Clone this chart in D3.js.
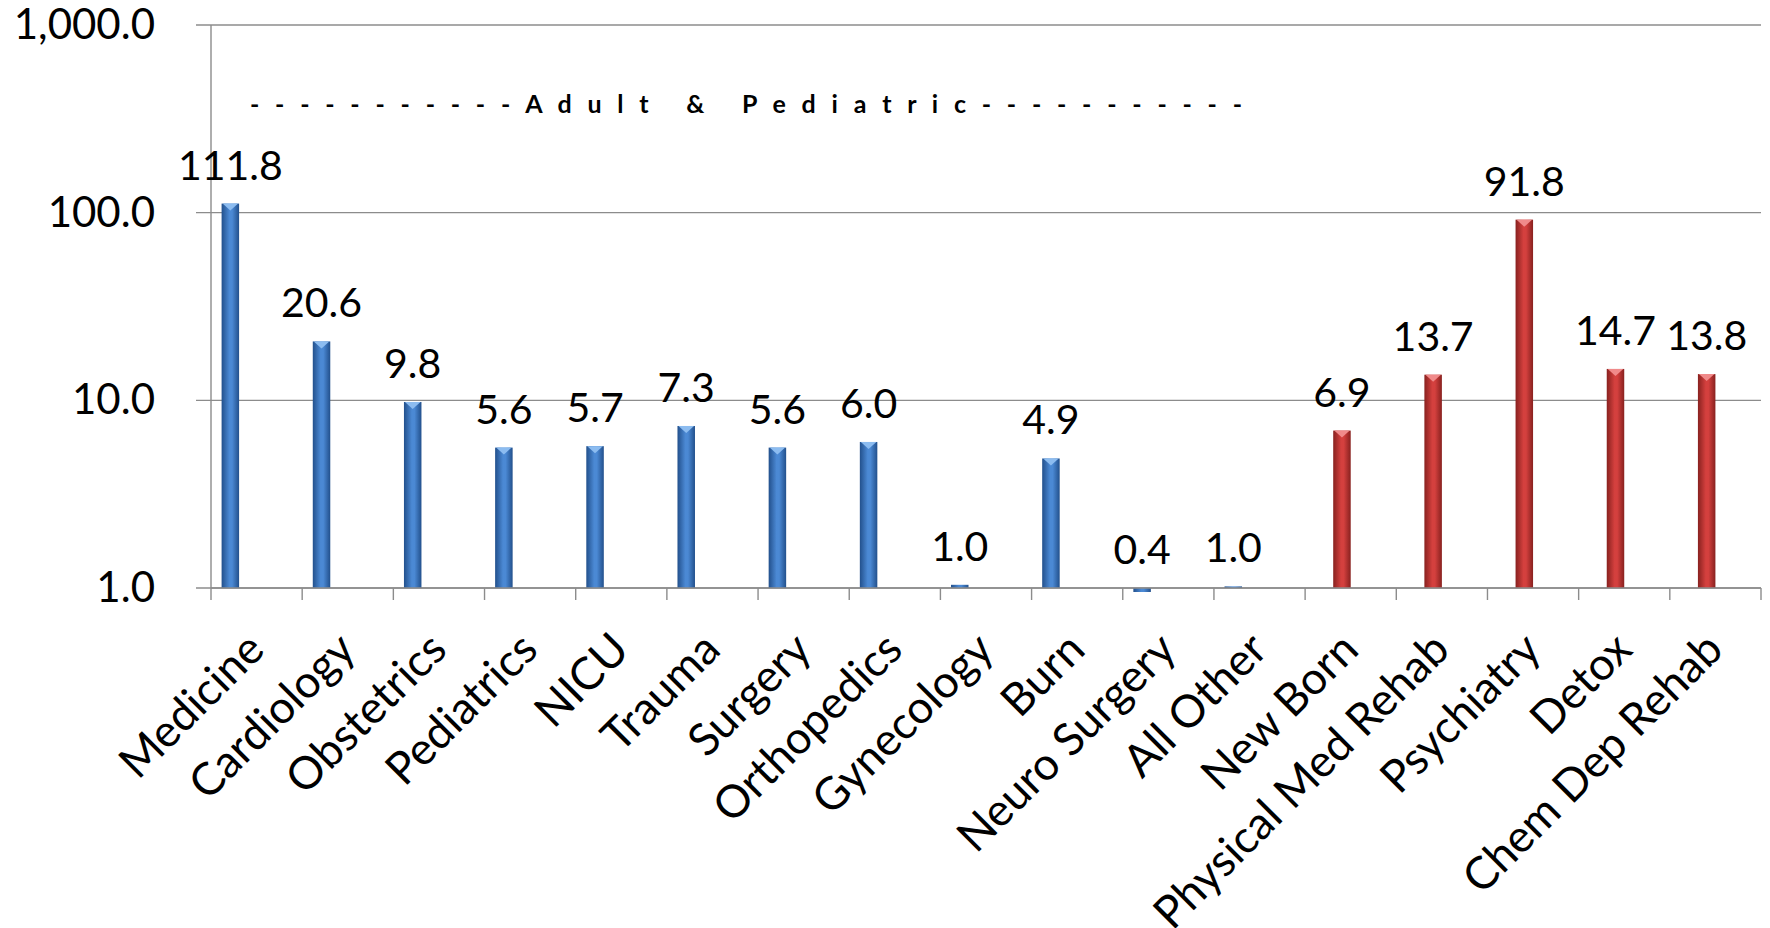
<!DOCTYPE html>
<html>
<head>
<meta charset="utf-8">
<script src="https://cdn.jsdelivr.net/npm/d3@7"></script>
<style>
  html, body { margin: 0; padding: 0; background: #fff; }
  svg text { font-family: Lato, "Open Sans", sans-serif; fill: #000; }
</style>
</head>
<body>
<svg id="chart"></svg>
<script>
"use strict";

var width = 1770
  , height = 928
  , margin = {top: 25, right: 9, bottom: 340, left: 211};

var categories = ["Medicine", "Cardiology", "Obstetrics", "Pediatrics", "NICU", "Trauma",
  "Surgery", "Orthopedics", "Gynecology", "Burn", "Neuro Surgery", "All Other",
  "New Born", "Physical Med Rehab", "Psychiatry", "Detox", "Chem Dep Rehab"];

// adult & pediatric units (blue)
var adultValues = [111.8, 20.6, 9.8, 5.6, 5.7, 7.3, 5.6, 6.0, 1.04, 4.9, 0.4, 1.02,
  null, null, null, null, null];

// specialty units (red)
var specialtyValues = [null, null, null, null, null, null, null, null, null, null, null, null,
  6.9, 13.7, 91.8, 14.7, 13.8];

var yTicks = [1, 10, 100, 1000];
var groupTitle = "- - - - - - - - - - - A d u l t   &   P e d i a t r i c - - - - - - - - - - -";

var series = [
  {key: "adult", values: adultValues, edge: "#22508c", mid: "#4b89d4", cap: "#8cbcf0"},
  {key: "specialty", values: specialtyValues, edge: "#88211f", mid: "#d4403e", cap: "#f08a8a"}
];

var svg = d3.select("#chart")
  .attr("width", width)
  .attr("height", height);

var plotBottom = height - margin.bottom
  , plotRight = width - margin.right;

var x = d3.scaleBand()
  .domain(categories)
  .range([margin.left, plotRight])
  .paddingInner(0.2325)
  .paddingOuter(0.11625);

// four slots per category, the chart only fills the first two
var xSub = d3.scaleBand()
  .domain(d3.range(4))
  .range([0, x.bandwidth()]);

var y = d3.scaleLog()
  .domain([1, 1000])
  .range([plotBottom, margin.top]);

var defs = svg.append("defs");

series.forEach(function (s) {
  var grad = defs.append("linearGradient")
    .attr("id", "grad-" + s.key)
    .attr("x1", "0").attr("x2", "1").attr("y1", "0").attr("y2", "0");
  grad.append("stop").attr("offset", "0%").attr("stop-color", s.edge);
  grad.append("stop").attr("offset", "45%").attr("stop-color", s.mid);
  grad.append("stop").attr("offset", "60%").attr("stop-color", s.mid);
  grad.append("stop").attr("offset", "100%").attr("stop-color", s.edge);
});

defs.append("clipPath")
  .attr("id", "plot-clip")
  .append("rect")
  .attr("x", margin.left)
  .attr("y", 0)
  .attr("width", plotRight - margin.left)
  .attr("height", plotBottom + 4);

// gridlines + y ticks
svg.append("g")
  .selectAll("line")
  .data(yTicks)
  .enter()
  .append("line")
  .attr("x1", margin.left - 15)
  .attr("x2", plotRight)
  .attr("y1", function (d) { return y(d); })
  .attr("y2", function (d) { return y(d); })
  .attr("stroke", "#8c8c8c")
  .attr("stroke-width", 1.4);

svg.append("g")
  .selectAll("text")
  .data(yTicks)
  .enter()
  .append("text")
  .attr("x", 155)
  .attr("y", function (d) { return y(d); })
  .attr("dy", "0.33em")
  .attr("text-anchor", "end")
  .style("font-size", "42px")
  .text(function (d) { return d3.format(",.1f")(d); });

// axes lines
svg.append("line")
  .attr("x1", margin.left).attr("x2", margin.left)
  .attr("y1", y(1000)).attr("y2", plotBottom + 12)
  .attr("stroke", "#8c8c8c")
  .attr("stroke-width", 1.4);

var step = x.step();
svg.append("g")
  .selectAll("line")
  .data(categories)
  .enter()
  .append("line")
  .attr("x1", function (d) { return x(d) - x.paddingInner() * step / 2 + step; })
  .attr("x2", function (d) { return x(d) - x.paddingInner() * step / 2 + step; })
  .attr("y1", plotBottom)
  .attr("y2", plotBottom + 12)
  .attr("stroke", "#8c8c8c")
  .attr("stroke-width", 1.4);

// bars
var bars = svg.append("g").attr("clip-path", "url(#plot-clip)");

series.forEach(function (s, i) {
  var pts = categories.map(function (c, j) {
    return {cat: c, v: s.values[j]};
  }).filter(function (d) { return d.v != null; });

  var bw = xSub.bandwidth();

  bars.selectAll(".bar-" + s.key)
    .data(pts)
    .enter()
    .append("rect")
    .attr("class", "bar-" + s.key)
    .attr("x", function (d) { return x(d.cat) + xSub(i); })
    .attr("width", bw)
    .attr("y", function (d) { return Math.min(y(d.v), y(1)); })
    .attr("height", function (d) { return Math.abs(y(1) - y(d.v)); })
    .attr("fill", "url(#grad-" + s.key + ")");

  // little bevel at the top of each bar
  bars.selectAll(".cap-" + s.key)
    .data(pts.filter(function (d) { return y(1) - y(d.v) > 10; }))
    .enter()
    .append("path")
    .attr("class", "cap-" + s.key)
    .attr("d", function (d) {
      var x0 = x(d.cat) + xSub(i), top = y(d.v);
      return "M" + (x0 + 1) + "," + top + "L" + (x0 + bw - 1) + "," + top +
        "L" + (x0 + bw / 2) + "," + (top + 7) + "Z";
    })
    .attr("fill", s.cap);

  svg.append("g")
    .selectAll("text")
    .data(pts)
    .enter()
    .append("text")
    .attr("x", function (d) { return x(d.cat) + xSub(i) + bw / 2; })
    .attr("y", function (d) { return Math.min(y(d.v), y(1)) - 24; })
    .attr("text-anchor", "middle")
    .style("font-size", "41px")
    .text(function (d) { return d.v.toFixed(1); });
});

// x axis line on top of the bars
svg.append("line")
  .attr("x1", margin.left).attr("x2", plotRight)
  .attr("y1", plotBottom).attr("y2", plotBottom)
  .attr("stroke", "#8c8c8c")
  .attr("stroke-width", 1.4);

// category labels
svg.append("g")
  .selectAll("text")
  .data(categories)
  .enter()
  .append("text")
  .attr("transform", function (d) {
    return "translate(" + (x(d) + x.bandwidth() / 2 + 10) + "," + (plotBottom + 64) + ") rotate(-45)";
  })
  .attr("text-anchor", "end")
  .style("font-size", "45px")
  .text(function (d) { return d; });

// group title
svg.append("text")
  .attr("x", 250)
  .attr("y", 113)
  .attr("textLength", 992)
  .attr("lengthAdjust", "spacing")
  .style("font-size", "25px")
  .style("font-weight", "bold")
  .style("white-space", "pre")
  .text(groupTitle);
</script>
</body>
</html>
